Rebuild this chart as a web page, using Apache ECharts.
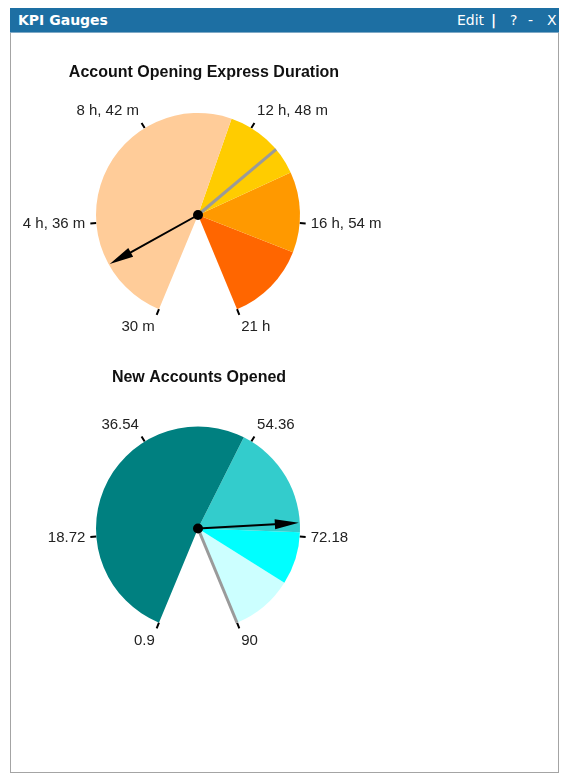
<!DOCTYPE html>
<html>
<head>
<meta charset="utf-8">
<title>KPI Gauges</title>
<script src="https://cdn.jsdelivr.net/npm/echarts@6/dist/echarts.min.js"></script>
<style>
  html, body { margin: 0; padding: 0; background: #fff; width: 565px; height: 776px; overflow: hidden; }
  #panel { position: absolute; left: 10px; top: 8px; width: 549px; height: 765px; border: 1px solid #a4a4a4; box-sizing: border-box; background: #fff; }
  #bar { position: absolute; left: -1px; top: -1px; width: 549px; height: 24px; background: #1d6fa3; border-bottom: 1px solid #7fa9c6; color: #fff; font: 14px "DejaVu Sans", Verdana, sans-serif; }
  #bar span { position: absolute; top: 4px; white-space: nowrap; }
  #bar .title { left: 8px; font-weight: bold; }
  #chart { position: absolute; left: 0; top: 0; width: 565px; height: 776px; }
</style>
</head>
<body>
<div id="panel">
  <div id="bar">
    <span class="title">KPI Gauges</span>
    <span style="left:447px">Edit</span>
    <span style="left:481px;font-weight:bold">|</span>
    <span style="left:500px">?</span>
    <span style="left:518px">-</span>
    <span style="left:537px">X</span>
  </div>
</div>
<div id="chart"></div>
<script>
// ---- Account Opening Express Duration (minutes) ----
const durationTicks = [30, 276, 522, 768, 1014, 1260];   // 30 m ... 21 h
const durationBandEnds = [720, 900, 1080, 1260];         // 12 h, 15 h, 18 h, 21 h
const durationTarget = 840;                              // 14 h
const durationActual = 180;                              // 3 h

// ---- New Accounts Opened ----
const accountTicks = [0.9, 18.72, 36.54, 54.36, 72.18, 90];
const accountBandEnds = [53, 71.5, 80, 90];
const accountTarget = 90;
const accountActual = 70;

// ---- styling ----
const durationColors = ['#FFCC99', '#FFCC00', '#FF9900', '#FF6600'];
const accountColors = ['#008080', '#33CCCC', '#00FFFF', '#CCFFFF'];
const START = 247.5, END = -67.5, SWEEP = 315, R = 102;
const ARROW = 'path://M4 101 L6 101 L6 24 L10 24 L5 0 L0 24 L4 24 Z';

function fmtDuration(m) {
  const h = Math.floor(m / 60), mm = Math.round(m - h * 60);
  if (!h) return mm + ' m';
  return mm ? h + ' h, ' + mm + ' m' : h + ' h';
}
function fmtNumber(v) { return String(parseFloat(v.toFixed(2))); }

const gauges = [
  { title: 'Account Opening Express Duration', titleX: 204, titleY: 73, center: [198, 215],
    ticks: durationTicks, ends: durationBandEnds, colors: durationColors,
    target: durationTarget, actual: durationActual, fmt: fmtDuration },
  { title: 'New Accounts Opened', titleX: 199, titleY: 378, center: [198, 528.5],
    ticks: accountTicks, ends: accountBandEnds, colors: accountColors,
    target: accountTarget, actual: accountActual, fmt: fmtNumber }
];

const option = { animation: false, polar: [], angleAxis: [], radiusAxis: [], series: [], graphic: [] };

gauges.forEach(function (g, i) {
  const min = g.ticks[0], max = g.ticks[g.ticks.length - 1];
  const step = +(g.ticks[1] - g.ticks[0]).toFixed(6);
  const span = max - min;

  // polar frame carries the outer tick marks and tick labels
  option.polar.push({ center: g.center, radius: R });
  option.radiusAxis.push({ polarIndex: i, type: 'value', min: 0, max: 1,
    axisLine: { show: false }, axisTick: { show: false }, axisLabel: { show: false }, splitLine: { show: false } });
  option.angleAxis.push({
    polarIndex: i, type: 'value', startAngle: START, clockwise: true,
    min: 0, max: span * 360 / SWEEP, interval: step,
    axisLine: { show: false }, splitLine: { show: false },
    axisTick: { show: true, length: 6, lineStyle: { color: '#000', width: 2 } },
    axisLabel: {
      show: true, margin: 11, color: '#222', fontSize: 15, fontFamily: '"Liberation Sans", Arial, sans-serif',
      formatter: function (v) {
        const k = Math.round(v / step);
        if (k >= g.ticks.length || Math.abs(v - k * step) > step * 1e-3) return '';
        return g.fmt(g.ticks[k]);
      }
    }
  });

  // coloured bands filling the dial, with the target marker
  option.series.push({
    type: 'gauge', center: g.center, radius: R, startAngle: START, endAngle: END,
    min: min, max: max, z: 3,
    axisLine: { show: true, lineStyle: { width: R, color: g.ends.map(function (e, j) {
      return [(e - min) / span, g.colors[j]];
    }) } },
    axisTick: { show: false }, splitLine: { show: false }, axisLabel: { show: false },
    progress: { show: false }, title: { show: false }, detail: { show: false },
    anchor: { show: false },
    pointer: { show: true, icon: 'rect', width: 3, length: R, itemStyle: { color: '#9a9a9a' } },
    data: [{ value: g.target }]
  });

  // actual value arrow with hub
  option.series.push({
    type: 'gauge', center: g.center, radius: R, startAngle: START, endAngle: END,
    min: min, max: max, z: 4,
    axisLine: { show: false }, axisTick: { show: false }, splitLine: { show: false }, axisLabel: { show: false },
    progress: { show: false }, title: { show: false }, detail: { show: false },
    anchor: { show: true, showAbove: true, size: 10, itemStyle: { color: '#000' } },
    pointer: { show: true, icon: ARROW, width: 10, length: 101, itemStyle: { color: '#000' } },
    data: [{ value: g.actual }]
  });

  option.graphic.push({
    type: 'text', x: g.titleX, y: g.titleY,
    style: { text: g.title, align: 'center', verticalAlign: 'middle', fill: '#111',
      font: 'bold 16px "Liberation Sans", Arial, sans-serif' }
  });
});

const chart = echarts.init(document.getElementById('chart'), null, { renderer: 'canvas' });
chart.setOption(option);
</script>
</body>
</html>
